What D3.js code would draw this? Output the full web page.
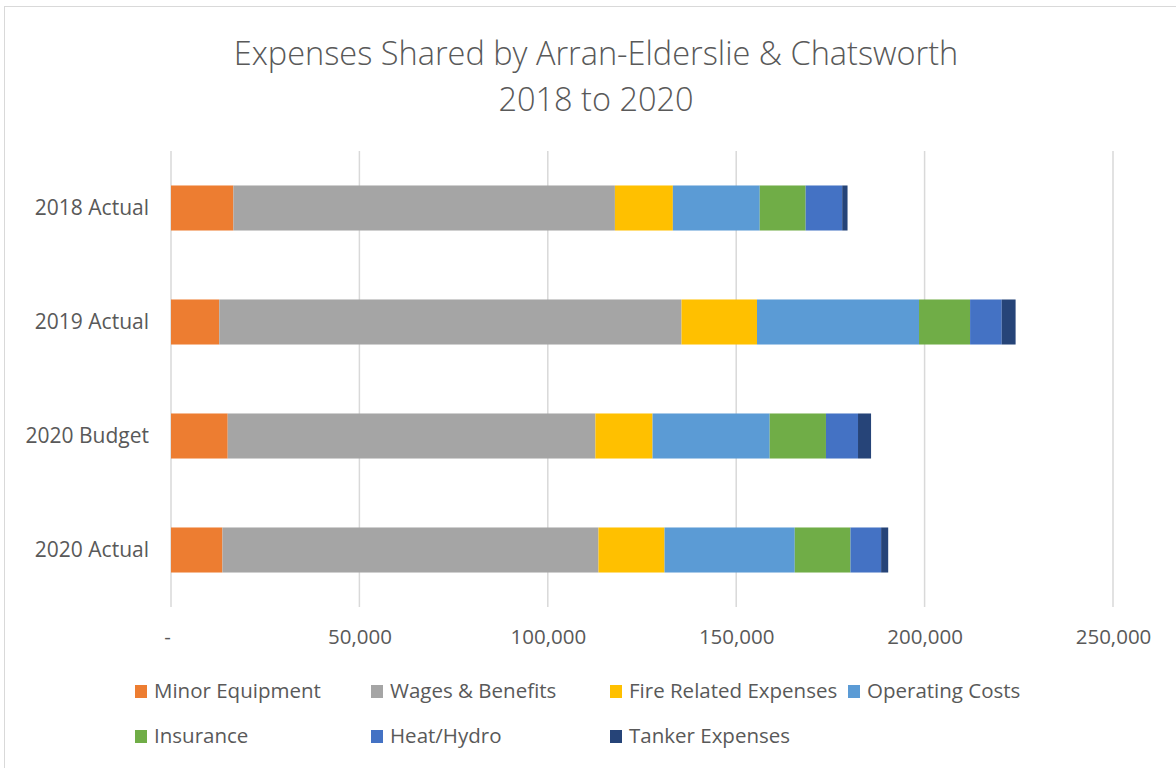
<!DOCTYPE html>
<html lang="en">
<head>
<meta charset="UTF-8"/>
<title>Expenses Shared by Arran-Elderslie & Chatsworth</title>
<script src="https://d3js.org/d3.v7.min.js"></script>
<style>
  body { margin: 0; background: #fff; }
  text { font-family: "Open Sans", "Liberation Sans", sans-serif; fill: #595959; }
</style>
</head>
<body>
<script>
  var w = 1176;
  var h = 768;

  // chart data
  var categories = ["2018 Actual", "2019 Actual", "2020 Budget", "2020 Actual"];
  var seriesNames = ["Minor Equipment", "Wages & Benefits", "Fire Related Expenses", "Operating Costs",
                     "Insurance", "Heat/Hydro", "Tanker Expenses"];
  var minorEquipment = [16560, 12810, 15050, 13650];
  var wagesBenefits  = [101250, 122680, 97580, 99800];
  var fireRelated    = [15380, 20030, 15170, 17530];
  var operatingCosts = [23060, 43000, 31090, 34560];
  var insurance      = [12180, 13550, 14930, 14780];
  var heatHydro      = [9700, 8400, 8510, 8140];
  var tanker         = [1420, 3680, 3460, 1880];
  var xTicks = [0, 50000, 100000, 150000, 200000, 250000];
  var colors = ["#ED7D31", "#A5A5A5", "#FFC000", "#5B9BD5", "#70AD47", "#4472C4", "#264478"];

  var seriesValues = [minorEquipment, wagesBenefits, fireRelated, operatingCosts, insurance, heatHydro, tanker];

  // build rows for d3.stack
  var rows = categories.map(function(c, i) {
    var r = { cat: c };
    seriesNames.forEach(function(s, j) { r[s] = seriesValues[j][i]; });
    return r;
  });
  var stacked = d3.stack().keys(seriesNames)(rows);

  var svg = d3.select("body").append("svg")
      .attr("width", w)
      .attr("height", h);

  // chart border
  svg.append("rect")
      .attr("x", 4.5).attr("y", 6.5)
      .attr("width", w + 10).attr("height", h + 10)
      .attr("fill", "none")
      .attr("stroke", "#d9d9d9");

  var xScale = d3.scaleLinear()
      .domain([0, 250000])
      .range([171, 1113]);

  var yScale = d3.scaleBand()
      .domain(categories)
      .range([151, 607])
      .paddingInner(0.605)
      .paddingOuter(0.3025);

  // gridlines
  svg.append("g")
      .selectAll("line")
      .data(xTicks)
      .enter()
      .append("line")
      .attr("x1", function(d) { return xScale(d); })
      .attr("x2", function(d) { return xScale(d); })
      .attr("y1", 151)
      .attr("y2", 607)
      .attr("stroke", "#d9d9d9")
      .attr("stroke-width", 1.5);

  // bars
  svg.append("g")
      .selectAll("g")
      .data(stacked)
      .enter()
      .append("g")
      .attr("fill", function(d, i) { return colors[i]; })
      .selectAll("rect")
      .data(function(d) { return d; })
      .enter()
      .append("rect")
      .attr("x", function(d) { return xScale(d[0]); })
      .attr("width", function(d) { return xScale(d[1]) - xScale(d[0]); })
      .attr("y", function(d) { return yScale(d.data.cat); })
      .attr("height", yScale.bandwidth());

  // x axis
  var xAxis = d3.axisBottom(xScale)
      .tickValues(xTicks)
      .tickSize(0)
      .tickPadding(0)
      .tickFormat(function(d) { return d === 0 ? "-" : d3.format(",")(d); });

  var gx = svg.append("g")
      .attr("transform", "translate(0, 630)")
      .call(xAxis);
  gx.select(".domain").remove();
  gx.selectAll("text")
      .attr("font-size", 20.5)
      .attr("fill", "#595959")
      .attr("dy", "0.35em")
      .attr("y", 7)
      .style("font-family", null);
  gx.select(".tick text").attr("dx", -4);

  // y axis
  var yAxis = d3.axisLeft(yScale).tickSize(0).tickPadding(0);
  var gy = svg.append("g")
      .attr("transform", "translate(149, 0)")
      .call(yAxis);
  gy.select(".domain").remove();
  gy.selectAll("text")
      .attr("font-size", 21)
      .attr("fill", "#595959")
      .style("font-family", null);

  // title
  var title = svg.append("text")
      .attr("x", 596)
      .attr("text-anchor", "middle")
      .attr("font-size", 32.5)
      .attr("font-weight", 300);
  title.append("tspan").attr("x", 596).attr("y", 65).text("Expenses Shared by Arran-Elderslie & Chatsworth");
  title.append("tspan").attr("x", 596).attr("y", 111).text("2018 to 2020");

  // legend
  var legendX = [135, 371, 610, 848];
  var legend = svg.append("g")
      .selectAll("g")
      .data(seriesNames)
      .enter()
      .append("g")
      .attr("transform", function(d, i) {
        return "translate(" + legendX[i % 4] + "," + (691 + Math.floor(i / 4) * 45) + ")";
      });
  legend.append("rect")
      .attr("x", 0).attr("y", -6)
      .attr("width", 12).attr("height", 13)
      .attr("fill", function(d, i) { return colors[i]; });
  legend.append("text")
      .attr("x", 19)
      .attr("dy", "0.35em")
      .attr("font-size", 20.5)
      .text(function(d) { return d; });
</script>
</body>
</html>
